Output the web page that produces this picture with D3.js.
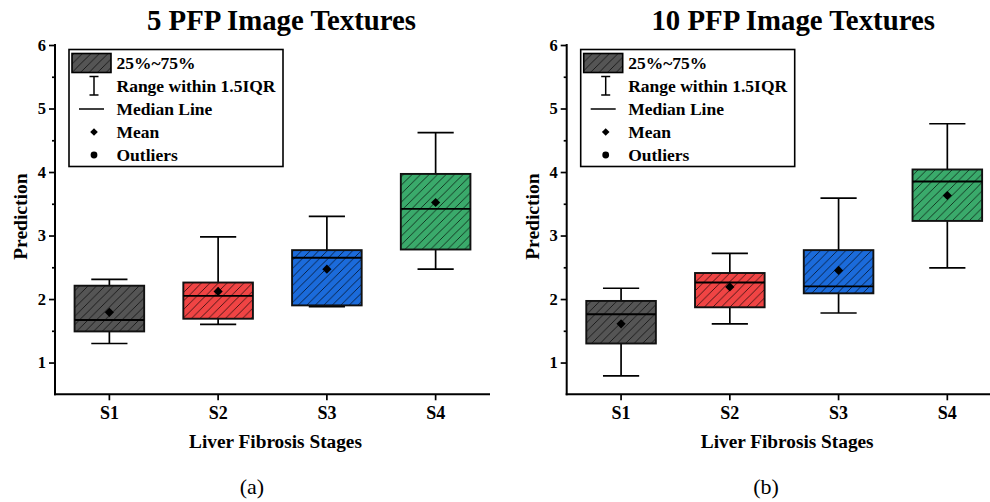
<!DOCTYPE html>
<html>
<head>
<meta charset="utf-8">
<script src="https://cdn.jsdelivr.net/npm/d3@7"></script>
<style>
  body { margin: 0; background: #fff; }
  svg { display: block; }
  text { font-family: "Liberation Serif", "Times New Roman", serif; }
</style>
</head>
<body>
<svg id="chart" width="990" height="502"></svg>
<script>
// --- data ---
const categories = ["S1", "S2", "S3", "S4"];
const boxColors = ["#555555", "#f04444", "#1b6bdb", "#3aaa6b"];
const yTicks = [1, 2, 3, 4, 5, 6];

// 5 PFP panel
const p5Min    = [1.30, 1.60, 1.88, 2.47];
const p5Q1     = [1.49, 1.69, 1.90, 2.78];
const p5Median = [1.67, 2.05, 2.65, 3.42];
const p5Q3     = [2.21, 2.26, 2.77, 3.97];
const p5Max    = [2.31, 2.98, 3.30, 4.62];
const p5Mean   = [1.79, 2.12, 2.47, 3.52];

// 10 PFP panel
const p10Min    = [0.79, 1.61, 1.78, 2.49];
const p10Q1     = [1.30, 1.87, 2.09, 3.23];
const p10Median = [1.76, 2.26, 2.20, 3.85];
const p10Q3     = [1.97, 2.41, 2.77, 4.04];
const p10Max    = [2.17, 2.72, 3.59, 4.76];
const p10Mean   = [1.61, 2.19, 2.45, 3.63];

const legendItems = ["25%~75%", "Range within 1.5IQR", "Median Line", "Mean", "Outliers"];

const svg = d3.select("#chart");

// hatch pattern shared by all boxes
svg.append("defs").append("pattern")
    .attr("id", "hatch")
    .attr("patternUnits", "userSpaceOnUse")
    .attr("width", 8.5).attr("height", 8.5)
  .append("path")
    .attr("d", "M0,8.5 L8.5,0 M-2,2 L2,-2 M6.5,10.5 L10.5,6.5")
    .attr("stroke", "#000").attr("stroke-opacity", 0.75)
    .attr("stroke-width", 0.9);

// diamond marker centred on 0,0
const diamond = r => `M0,${-r}L${r},0L0,${r}L${-r},0Z`;

function drawPanel(ox, title, caption, mins, q1s, meds, q3s, maxs, means) {
    const left = ox, top = 45, width = 435, bottom = 394.3;
    const g = svg.append("g");

    const x = d3.scaleBand().domain(categories).range([left, left + width]);
    const y = d3.scaleLinear().domain([0.5, 6]).range([bottom, top]);
    const boxW = x.bandwidth() * 0.64;
    const capW = boxW * 0.52;

    const rows = categories.map((c, i) => ({
        c, color: boxColors[i], lo: mins[i], q1: q1s[i], med: meds[i], q3: q3s[i], hi: maxs[i], mean: means[i]
    }));

    // whiskers
    const wg = g.append("g").attr("stroke", "#000").attr("stroke-width", 1.7);
    rows.forEach(d => {
        const cx = x(d.c) + x.bandwidth() / 2;
        wg.append("line").attr("x1", cx).attr("x2", cx).attr("y1", y(d.hi)).attr("y2", y(d.q3));
        wg.append("line").attr("x1", cx).attr("x2", cx).attr("y1", y(d.q1)).attr("y2", y(d.lo));
        wg.append("line").attr("x1", cx - capW / 2).attr("x2", cx + capW / 2).attr("y1", y(d.hi)).attr("y2", y(d.hi));
        wg.append("line").attr("x1", cx - capW / 2).attr("x2", cx + capW / 2).attr("y1", y(d.lo)).attr("y2", y(d.lo));
    });

    // boxes: colour fill, hatch on top, then outline
    const bx = d => x(d.c) + (x.bandwidth() - boxW) / 2;
    g.selectAll(".box").data(rows).join("rect")
        .attr("x", bx).attr("y", d => y(d.q3))
        .attr("width", boxW).attr("height", d => y(d.q1) - y(d.q3))
        .attr("fill", d => d.color);
    g.selectAll(".hatch").data(rows).join("rect")
        .attr("x", bx).attr("y", d => y(d.q3))
        .attr("width", boxW).attr("height", d => y(d.q1) - y(d.q3))
        .attr("fill", "url(#hatch)")
        .attr("stroke", "#111").attr("stroke-width", 1.9);

    // medians
    g.selectAll(".med").data(rows).join("line")
        .attr("x1", bx).attr("x2", d => bx(d) + boxW)
        .attr("y1", d => y(d.med)).attr("y2", d => y(d.med))
        .attr("stroke", "#000").attr("stroke-width", 1.9);

    // means
    g.selectAll(".mean").data(rows).join("path")
        .attr("transform", d => `translate(${x(d.c) + x.bandwidth() / 2},${y(d.mean)})`)
        .attr("d", diamond(4.6))
        .attr("fill", "#000");

    // axes
    const yAxis = g.append("g").attr("transform", `translate(${left},0)`)
        .call(d3.axisLeft(y).tickValues(yTicks).tickSize(6).tickPadding(3).tickFormat(d3.format("d")));
    const yMinor = g.append("g").attr("transform", `translate(${left},0)`)
        .call(d3.axisLeft(y).tickValues([1.5, 2.5, 3.5, 4.5, 5.5]).tickSize(3).tickFormat(""));
    yMinor.select(".domain").remove();
    const xAxis = g.append("g").attr("transform", `translate(0,${bottom})`)
        .call(d3.axisBottom(x).tickSize(6).tickPadding(6));

    [yAxis, yMinor, xAxis].forEach(a => {
        a.selectAll(".domain").attr("stroke", "#000").attr("stroke-width", 2);
        a.selectAll(".tick line").attr("stroke", "#000").attr("stroke-width", 1.7);
        a.selectAll("text").attr("font-family", "Liberation Serif").attr("font-weight", "bold")
            .attr("fill", "#000");
    });
    yAxis.select(".domain").attr("d", `M0,${top - 1}V${bottom + 1}`);
    xAxis.select(".domain").attr("d", `M${left - 1},0H${left + width}`);
    yAxis.selectAll("text").attr("font-size", 16.5);
    xAxis.selectAll("text").attr("font-size", 18);

    // titles
    g.append("text").attr("x", left + width / 2 + 9).attr("y", 30)
        .attr("text-anchor", "middle").attr("font-weight", "bold").attr("font-size", 28.8)
        .text(title);
    g.append("text").attr("x", left + width / 2 + 3).attr("y", 448)
        .attr("text-anchor", "middle").attr("font-weight", "bold").attr("font-size", 19.3)
        .text("Liver Fibrosis Stages");
    g.append("text")
        .attr("transform", `translate(${left - 28},${(top + bottom) / 2 - 3}) rotate(-90)`)
        .attr("text-anchor", "middle").attr("font-weight", "bold").attr("font-size", 19.5)
        .text("Prediction");
    g.append("text").attr("x", caption.x).attr("y", 494)
        .attr("text-anchor", "middle").attr("font-size", 22)
        .text(caption.text);

    // legend
    const lx = left + 14, ly = 49.5;
    const lg = g.append("g");
    lg.append("rect").attr("x", lx).attr("y", ly).attr("width", 214).attr("height", 117)
        .attr("fill", "#fff").attr("stroke", "#000").attr("stroke-width", 1.6);
    const ix = lx + 25, tx = lx + 47.5;
    lg.append("rect").attr("x", lx + 3).attr("y", ly + 4).attr("width", 39).attr("height", 19)
        .attr("fill", boxColors[0]);
    lg.append("rect").attr("x", lx + 3).attr("y", ly + 4).attr("width", 39).attr("height", 19)
        .attr("fill", "url(#hatch)").attr("stroke", "#000").attr("stroke-width", 1.6);
    const wk = lg.append("g").attr("stroke", "#000").attr("stroke-width", 1.5);
    wk.append("line").attr("x1", ix).attr("x2", ix).attr("y1", ly + 27).attr("y2", ly + 45.5);
    wk.append("line").attr("x1", ix - 4.5).attr("x2", ix + 4.5).attr("y1", ly + 27).attr("y2", ly + 27);
    wk.append("line").attr("x1", ix - 4.5).attr("x2", ix + 4.5).attr("y1", ly + 45.5).attr("y2", ly + 45.5);
    lg.append("line").attr("x1", ix - 15).attr("x2", ix + 10).attr("y1", ly + 59.5).attr("y2", ly + 59.5)
        .attr("stroke", "#000").attr("stroke-width", 1.5);
    lg.append("path").attr("transform", `translate(${ix},${ly + 82.5})`)
        .attr("d", diamond(3.8)).attr("fill", "#000");
    lg.append("circle").attr("cx", ix).attr("cy", ly + 105.5).attr("r", 3.4).attr("fill", "#000");
    lg.selectAll(".lt").data(legendItems).join("text")
        .attr("x", tx).attr("y", (d, i) => ly + 19 + i * 23)
        .attr("font-weight", "bold").attr("font-size", 17.5)
        .text(d => d);
}

drawPanel(55, "5 PFP Image Textures", { x: 252, text: "(a)" },
    p5Min, p5Q1, p5Median, p5Q3, p5Max, p5Mean);
drawPanel(566.7, "10 PFP Image Textures", { x: 766, text: "(b)" },
    p10Min, p10Q1, p10Median, p10Q3, p10Max, p10Mean);
</script>
</body>
</html>
